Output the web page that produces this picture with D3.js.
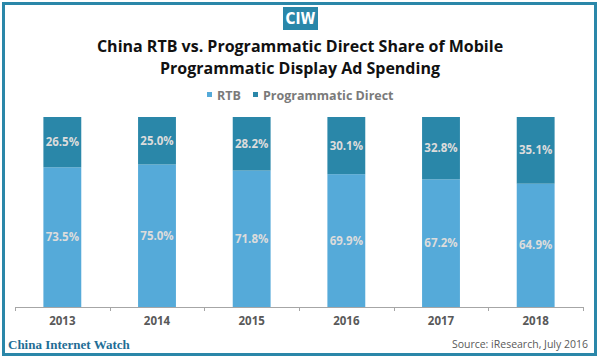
<!DOCTYPE html>
<html><head><meta charset="utf-8">
<script src="https://cdn.jsdelivr.net/npm/d3@7"></script>
<style>body{margin:0;background:#fff}svg{display:block}</style>
</head><body>
<svg id="c" width="600" height="358"></svg>
<script>
const years = ["2013","2014","2015","2016","2017","2018"];
const rtb = [73.5, 75.0, 71.8, 69.9, 67.2, 64.9];
const direct = [26.5, 25.0, 28.2, 30.1, 32.8, 35.1];
const seriesNames = ["RTB", "Programmatic Direct"];
const colors = ["#55aad9", "#2a87a9"];

const svg = d3.select("#c");
// frame
svg.append("rect").attr("x",3.5).attr("y",3.5).attr("width",592).attr("height",351)
  .attr("fill","none").attr("stroke","#2a87a9").attr("stroke-width",3);
// CIW badge
svg.append("rect").attr("x",283).attr("y",7).attr("width",35).attr("height",23).attr("fill","#2a87a9");
svg.append("text").attr("x",300.5).attr("y",24).attr("text-anchor","middle")
  .attr("font-family","'Liberation Sans Narrow','DejaVu Sans Condensed',sans-serif").attr("font-weight","bold")
  .attr("font-size",15).attr("fill","#fff").text("CIW");
// title
const title = svg.append("text").attr("text-anchor","middle").attr("font-family","'Open Sans',sans-serif")
  .attr("font-weight","bold").attr("font-size",16).attr("fill","#111");
title.append("tspan").attr("x",300).attr("y",52).text("China RTB vs. Programmatic Direct Share of Mobile");
title.append("tspan").attr("x",300).attr("y",74).text("Programmatic Display Ad Spending");

// legend
const leg = [{x:207,name:seriesNames[0],c:colors[0]},{x:253,name:seriesNames[1],c:colors[1]}];
leg.forEach(l=>{
  svg.append("rect").attr("x",l.x).attr("y",92).attr("width",5).attr("height",5).attr("fill",l.c);
  svg.append("text").attr("x",l.x+10).attr("y",99.5).attr("font-family","'Open Sans',sans-serif")
    .attr("font-size",12.5).attr("font-weight","bold").attr("fill","#7a7a7a").text(l.name);
});

const x = d3.scaleBand().domain(years).range([15,583]).paddingInner(0.6).paddingOuter(0.3);
const y = d3.scaleLinear().domain([0,100]).range([307,117]);

const data = years.map((yr,i)=>({year:yr, rtb:rtb[i], direct:direct[i]}));
const stack = d3.stack().keys(["rtb","direct"])(data);

const g = svg.append("g");
stack.forEach((s,si)=>{
  g.selectAll(null).data(s).enter().append("rect")
    .attr("x",d=>x(d.data.year)).attr("width",x.bandwidth())
    .attr("y",d=>y(d[1])).attr("height",d=>y(d[0])-y(d[1]))
    .attr("fill",colors[si]);
  g.selectAll(null).data(s).enter().append("text")
    .attr("x",d=>x(d.data.year)+x.bandwidth()/2)
    .attr("y",d=>(y(d[0])+y(d[1]))/2+4)
    .attr("text-anchor","middle").attr("font-family","'Open Sans',sans-serif")
    .attr("font-weight","bold").attr("font-size",11.5).attr("fill","#dcdcdc")
    .text(d=>(d[1]-d[0]).toFixed(1)+"%");
});

// axis
const xb = d3.scaleLinear().domain([0,6]).range([15,583]);
svg.append("line").attr("x1",15).attr("x2",583).attr("y1",307.5).attr("y2",307.5).attr("stroke","#a6a6a6");
svg.selectAll(null).data(d3.range(7)).enter().append("line")
  .attr("x1",d=>Math.round(xb(d))+0.5).attr("x2",d=>Math.round(xb(d))+0.5)
  .attr("y1",307).attr("y2",311).attr("stroke","#a6a6a6");
svg.selectAll(null).data(years).enter().append("text")
  .attr("x",d=>x(d)+x.bandwidth()/2).attr("y",325).attr("text-anchor","middle")
  .attr("font-family","'Open Sans',sans-serif").attr("font-weight","bold").attr("font-size",11.5)
  .attr("fill","#595959").text(d=>d);

// footer
svg.append("text").attr("x",8).attr("y",349).attr("font-family","'Liberation Serif','DejaVu Serif',serif")
  .attr("font-weight","bold").attr("font-size",13).attr("fill","#1f6e96").text("China Internet Watch");
svg.append("text").attr("x",588).attr("y",348).attr("text-anchor","end")
  .attr("font-family","'Open Sans',sans-serif").attr("font-size",10.5).attr("fill","#595959")
  .text("Source: iResearch, July 2016");
</script>
</body></html>
